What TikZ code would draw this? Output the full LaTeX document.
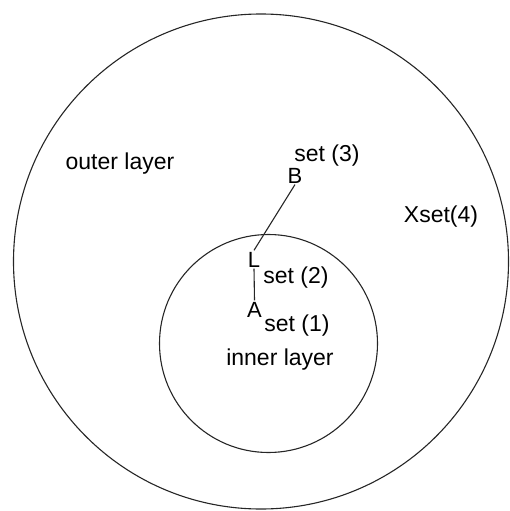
\documentclass[tikz,border=0pt]{standalone}
\usepackage{fontspec}
\setmainfont{Liberation Sans}
\usepackage{tikz}

\begin{document}
\begin{tikzpicture}[x=1pt, y=-1pt, line width=1.1pt,
  layer/.style={circle, draw=black!85, inner sep=0pt},
  lbl/.style={inner sep=0pt, anchor=base, font=\fontsize{23}{27}\selectfont},
  pt/.style={inner sep=1pt, anchor=base, font=\fontsize{22}{26}\selectfont}]
\useasboundingbox (0,0) rectangle (510,511);
% Capas
\node[layer, minimum size=495pt] (outer) at (261,261.5) {};
\node[layer, minimum size=218pt] (inner) at (268.5,343.5) {};

% Textos
\node[lbl] (outerlbl) at (120,169) {outer layer};
\node[lbl] (innerlbl) at (280,365) {inner layer};
\node[lbl] (set4) at (441,222) {Xset(4)};
\node[lbl] (set3) at (327,161) {set (3)};
\node[lbl] (set2) at (296,283) {set (2)};
\node[lbl] (set1) at (297,331) {set (1)};

% Puntos
\node[pt] (B) at (295,183) {B};
\node[pt] (L) at (254,267) {L};
\node[pt] (A) at (254.5,317) {A};

% Enlaces
\draw[black!85] (B.south) -- (L.north);
\draw[black!85] (L.south) -- (A.north);
\end{tikzpicture}
\end{document}
